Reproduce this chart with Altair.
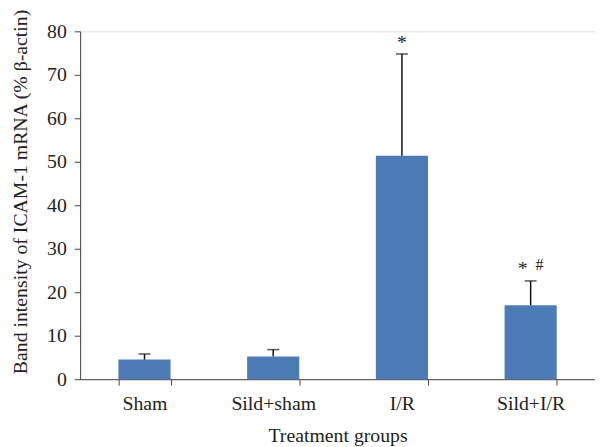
import altair as alt
import pandas as pd

groups = ["Sham", "Sild+sham", "I/R", "Sild+I/R"]
means = [4.5, 5.2, 51.4, 17.0]
upper = [5.8, 6.8, 74.8, 22.6]
star = ["", "", "*", "*"]
hash_mark = ["", "", "", "#"]

df = pd.DataFrame({"group": groups, "mean": means, "upper": upper,
                   "star": star, "hash": hash_mark})

FONT = "Liberation Serif"
FS = 20
x = alt.X("group:N", sort=groups, title="Treatment groups",
          scale=alt.Scale(paddingInner=0.595, paddingOuter=0.2975),
          axis=alt.Axis(labelAngle=0, tickBand="extent", labelFontSize=FS,
                        titleFontSize=FS, labelPadding=9, titlePadding=12,
                        tickSize=6, domainColor="#444", tickColor="#444",
                        labelColor="#222", titleColor="#222",
                        labelFont=FONT, titleFont=FONT, titleFontWeight="normal"))
y = alt.Y("mean:Q", title="Band intensity of ICAM-1 mRNA (% β-actin)",
          scale=alt.Scale(domain=[0, 80], nice=False),
          axis=alt.Axis(values=list(range(0, 81, 10)), grid=False, labelFontSize=FS,
                        titleFontSize=FS, tickSize=6, labelPadding=8, titlePadding=16,
                        titleY=162,
                        domainColor="#444", tickColor="#444", labelColor="#222",
                        titleColor="#222", labelFont=FONT, titleFont=FONT,
                        titleFontWeight="normal"))

base = alt.Chart(df)
bars = base.mark_bar(color="#4c7bb6").encode(x=x, y=y)
err = base.mark_rule(color="#111", strokeWidth=1.5).encode(
    x=alt.X("group:N", sort=groups), y="mean:Q", y2="upper:Q")
cap = base.mark_tick(color="#111", size=12, thickness=1.5).encode(
    x=alt.X("group:N", sort=groups), y="upper:Q")
t1 = base.transform_filter("datum.group == 'I/R'").mark_text(
    font=FONT, fontSize=20, dy=-11, color="#222").encode(
    x=alt.X("group:N", sort=groups), y="upper:Q", text="star:N")
t2 = base.transform_filter("datum.group == 'Sild+I/R'").mark_text(
    font=FONT, fontSize=20, dy=-12, dx=-8, color="#222").encode(
    x=alt.X("group:N", sort=groups), y="upper:Q", text="star:N")
t3 = base.transform_filter("datum.group == 'Sild+I/R'").mark_text(
    font=FONT, fontSize=16, dy=-16, dx=9, color="#222").encode(
    x=alt.X("group:N", sort=groups), y="upper:Q", text="hash:N")

chart = alt.layer(bars, err, cap, t1, t2, t3).properties(
    width=521, height=352,
    autosize=alt.AutoSizeParams(type="none"),
    padding={"left": 73, "top": 21, "right": 0, "bottom": 66},
).configure_view(stroke=None).configure(background="white")

chart.save("out.html", embed_options={"renderer": "svg", "actions": False})
